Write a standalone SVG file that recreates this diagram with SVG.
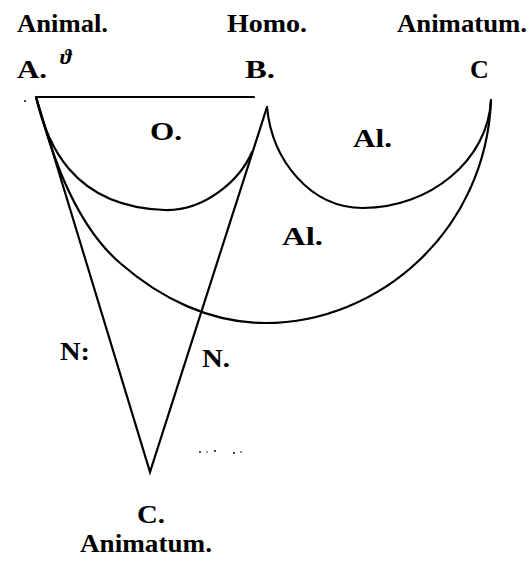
<svg xmlns="http://www.w3.org/2000/svg" width="532" height="568" viewBox="0 0 532 568">
<style>
.t{font-family:"Liberation Serif","Times New Roman",serif;font-weight:bold;fill:#000;}
.s{font-size:26px;}
.m{font-size:25px;}
.ln{fill:none;stroke:#000;stroke-width:2.2;stroke-linecap:round;stroke-linejoin:miter;}
.sp{fill:#000;}
</style>
<rect width="532" height="568" fill="#fff"/>
<g id="connectors">
<path class="ln" d="M36,97 L254,97"/>
<path class="ln" d="M36,97 C46,140 70,207 165,210 C205,211 240,180 252,152"/>
<path class="ln" d="M267,107 C272,160 310,208 363,208 C430,208 488,160 491,100"/>
<path class="ln" d="M36,97 C48,140 70,220 120,263 C160,298 210,323 265,323 C380,323 486,230 491,100"/>
<path class="ln" d="M36,97 L150,472 L267,107"/>
</g>
<g id="specks">
<circle class="sp" cx="25" cy="101" r="1"/>
<circle class="sp" cx="200" cy="452" r="0.9"/>
<circle class="sp" cx="207" cy="452" r="0.7"/>
<circle class="sp" cx="215" cy="451" r="1"/>
<circle class="sp" cx="234" cy="453" r="1"/>
<circle class="sp" cx="241" cy="452" r="0.8"/>
</g>
<g id="node-animal"><text class="t s" x="17" y="32" textLength="91" lengthAdjust="spacingAndGlyphs">Animal.</text></g>
<g id="node-homo"><text class="t s" x="227" y="32" textLength="80" lengthAdjust="spacingAndGlyphs">Homo.</text></g>
<g id="node-animatum-top"><text class="t s" x="397" y="32" textLength="130" lengthAdjust="spacingAndGlyphs">Animatum.</text></g>
<g id="node-A"><text class="t s" x="17" y="78" textLength="30" lengthAdjust="spacingAndGlyphs">A.</text>
<text x="60" y="64" style="font-family:'Liberation Serif',serif;font-style:italic;font-weight:bold;font-size:22px;fill:#000">ϑ</text></g>
<g id="node-B"><text class="t s" x="245" y="78" textLength="30" lengthAdjust="spacingAndGlyphs">B.</text></g>
<g id="node-C-top"><text class="t s" x="470" y="78">C</text></g>
<g id="label-O"><text class="t m" x="150" y="140" textLength="32" lengthAdjust="spacingAndGlyphs">O.</text></g>
<g id="label-Al-right"><text class="t m" x="353" y="147" textLength="39" lengthAdjust="spacingAndGlyphs">Al.</text></g>
<g id="label-Al-mid"><text class="t m" x="282" y="245" textLength="41" lengthAdjust="spacingAndGlyphs">Al.</text></g>
<g id="label-N-left"><text class="t m" x="60" y="360" textLength="30" lengthAdjust="spacingAndGlyphs">N:</text></g>
<g id="label-N-right"><text class="t m" x="202" y="367" textLength="28" lengthAdjust="spacingAndGlyphs">N.</text></g>
<g id="node-C-bottom"><text class="t s" x="137" y="523" textLength="28" lengthAdjust="spacingAndGlyphs">C.</text>
<text class="t s" x="80" y="552" textLength="132" lengthAdjust="spacingAndGlyphs">Animatum.</text></g>
</svg>
